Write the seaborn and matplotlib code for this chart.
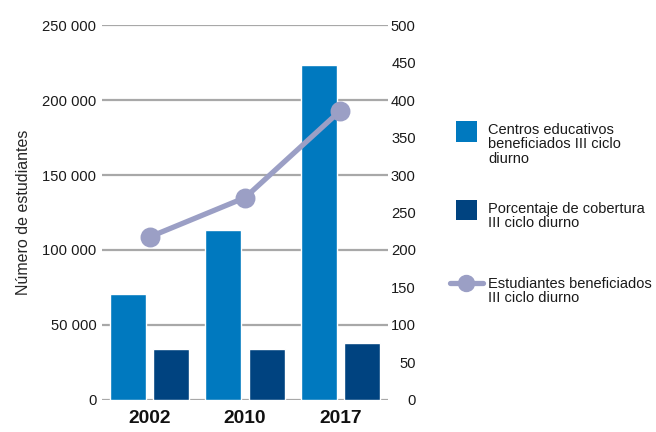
import matplotlib
matplotlib.use("Agg")
import matplotlib.pyplot as plt
import seaborn as sns
import pandas as pd
from matplotlib.ticker import FuncFormatter, MultipleLocator
from matplotlib.lines import Line2D
from matplotlib.patches import Patch, Rectangle
from matplotlib.legend_handler import HandlerPatch, HandlerLine2D

# Datos por año
years = ["2002", "2010", "2017"]
centros = [141, 227, 447]               # eje derecho
cobertura = [68, 68, 76]                # eje derecho
estudiantes = [108700, 134900, 192900]  # eje izquierdo

series_labels = [
    "Centros educativos\nbeneficiados III ciclo\ndiurno",
    "Porcentaje de cobertura\nIII ciclo diurno",
    "Estudiantes beneficiados\nIII ciclo diurno",
]

light_blue = "#0079BF"
dark_blue = "#004380"
lavender = "#9B9FC5"
grid_gray = "#A8A8A8"
text_color = "#1a1a1a"

sns.set_theme(style="white")
plt.rcParams["font.family"] = ["Liberation Sans", "DejaVu Sans"]
plt.rcParams["text.color"] = text_color

fig = plt.figure(figsize=(6.56, 4.32), dpi=100)
ax = fig.add_axes([0.1555, 0.0741, 0.436, 0.868])
ax2 = ax.twinx()

# Barras en el eje derecho
bars = pd.DataFrame({
    "Año": years * 2,
    "valor": centros + cobertura,
    "serie": [series_labels[0]] * 3 + [series_labels[1]] * 3,
})
sns.barplot(data=bars, x="Año", y="valor", hue="serie",
            palette=[light_blue, dark_blue], saturation=1,
            width=0.906, gap=0.163, legend=False, ax=ax2)

# Línea en el eje izquierdo
sns.pointplot(x=years, y=estudiantes, color=lavender, markers="o",
              markersize=11.5, linewidth=3.8, errorbar=None, ax=ax)

ax.set_zorder(ax2.get_zorder() + 1)
ax.patch.set_visible(False)
ax.set_xlim(-0.5, 2.5)

ax.set_ylim(0, 250000)
ax2.set_ylim(0, 500)
ax.yaxis.set_major_locator(MultipleLocator(50000))
ax.yaxis.set_major_formatter(FuncFormatter(lambda v, p: f"{v:,.0f}".replace(",", " ")))
ax2.yaxis.set_major_locator(MultipleLocator(100))
ax2.yaxis.set_minor_locator(MultipleLocator(50))
ax2.yaxis.set_major_formatter(FuncFormatter(lambda v, p: f"{v:.0f}"))
ax2.yaxis.set_minor_formatter(FuncFormatter(lambda v, p: f"{v:.0f}"))

ax2.set_axisbelow(True)
ax2.yaxis.grid(True, which="major", color=grid_gray, linewidth=1.6)
ax.grid(False)

for a in (ax, ax2):
    for s in a.spines.values():
        s.set_visible(False)
    a.set_xlabel("")

ax2.set_ylabel("")
ax.tick_params(axis="y", length=0, pad=4, labelsize=10.6, labelcolor=text_color)
ax2.tick_params(axis="y", which="both", length=0, pad=20, labelsize=10.6,
                labelcolor=text_color)
for t in ax2.get_yticklabels(which="both"):
    t.set_horizontalalignment("right")
ax.tick_params(axis="x", length=0, pad=7.5)
for t in ax.get_xticklabels():
    t.set_fontweight("bold")
    t.set_fontsize(13.8)
    t.set_color("#111111")

ax.set_ylabel("Número de estudiantes", fontsize=11.5)
ax.yaxis.set_label_coords(-0.25, 0.5)


# Los símbolos de la leyenda se alinean con la primera línea del texto
LINE_PITCH = 9.9  # puntos entre líneas del texto de la leyenda


class FirstLinePatch(HandlerPatch):
    def __init__(self, nlines, size=15.0, **kw):
        super().__init__(**kw)
        self.dy = (nlines - 1) / 2 * LINE_PITCH
        self.size = size

    def _create_patch(self, legend, orig_handle, xdescent, ydescent,
                      width, height, fontsize):
        s = self.size
        return Rectangle((-xdescent + (width - s) / 2,
                          -ydescent + (height - s) / 2 + self.dy), s, s)


class FirstLineLine(HandlerLine2D):
    def __init__(self, nlines, **kw):
        super().__init__(**kw)
        self.dy = (nlines - 1) / 2 * LINE_PITCH

    def create_artists(self, legend, orig_handle, xdescent, ydescent,
                       width, height, fontsize, trans):
        arts = super().create_artists(legend, orig_handle, xdescent, ydescent,
                                      width, height, fontsize, trans)
        for a in arts:
            a.set_ydata([y + self.dy for y in a.get_ydata()])
        return arts


handles = [
    Patch(facecolor=light_blue, edgecolor="none"),
    Patch(facecolor=dark_blue, edgecolor="none"),
    Line2D([], [], color=lavender, linewidth=3.8, marker="o", markersize=11.5),
]
handlers = [
    FirstLinePatch(3),
    FirstLinePatch(2),
    FirstLineLine(2),
]
tops = [123, 202, 277]  # posición superior de cada entrada (px desde arriba)

for h, hd, lab, top in zip(handles, handlers, series_labels, tops):
    leg = fig.legend([h], [lab], loc="upper left",
                     bbox_to_anchor=(450 / 656, 1 - top / 432),
                     frameon=False, fontsize=10.5, handlelength=2.26,
                     handleheight=1.4, handletextpad=0.34,
                     borderpad=0, borderaxespad=0,
                     handler_map={h: hd})
    for t in leg.get_texts():
        t.set_linespacing(1.03)
        t.set_color(text_color)

fig.savefig("out.png", dpi=100)
